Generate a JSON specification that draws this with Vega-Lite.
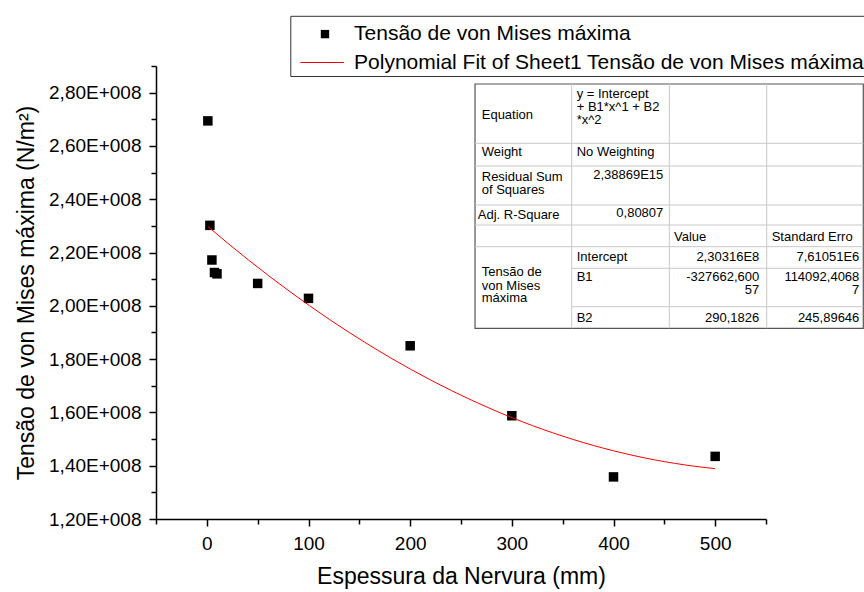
{
  "$schema": "https://vega.github.io/schema/vega-lite/v6.json",
  "autosize": {"type": "none"},
  "padding": {"left": 156, "top": 66, "right": 98, "bottom": 73},
  "width": 610,
  "height": 453,
  "background": "white",
  "config": {
    "view": {"stroke": null},
    "font": "Liberation Sans",
    "axis": {
      "domainColor": "black",
      "tickColor": "black",
      "labelColor": "black",
      "titleColor": "black",
      "grid": false,
      "labelFont": "Liberation Sans",
      "titleFont": "Liberation Sans",
      "labelFontSize": 19,
      "titleFontSize": 23,
      "titleFontWeight": "normal",
      "tickSize": 7,
      "labelPadding": 8,
      "domainWidth": 1.5,
      "tickWidth": 1.5
    }
  },
  "datasets": {
    "points": [
      {"x": 1, "y": 269400000},
      {"x": 3, "y": 230200000},
      {"x": 5, "y": 217200000},
      {"x": 7.5, "y": 212500000},
      {"x": 10, "y": 212000000},
      {"x": 50, "y": 208400000},
      {"x": 100, "y": 202800000},
      {"x": 200, "y": 185000000},
      {"x": 300, "y": 158750000},
      {"x": 400, "y": 135800000},
      {"x": 500, "y": 143500000}
    ],
    "tableBox": [
      {"x1": 263.8, "x2": 645.7, "y1": 283245000, "y2": 191565000}
    ],
    "tableLines": [
      {"x1": 358.9, "x2": 358.9, "y1": 283245000, "y2": 191565000},
      {"x1": 454.9, "x2": 454.9, "y1": 283245000, "y2": 191565000},
      {"x1": 550.7, "x2": 550.7, "y1": 283245000, "y2": 191565000},
      {"x1": 263.8, "x2": 645.7, "y1": 260991000, "y2": 260991000},
      {"x1": 263.8, "x2": 645.7, "y1": 252472000, "y2": 252472000},
      {"x1": 263.8, "x2": 645.7, "y1": 237837000, "y2": 237837000},
      {"x1": 263.8, "x2": 645.7, "y1": 230331000, "y2": 230331000},
      {"x1": 263.8, "x2": 645.7, "y1": 222188000, "y2": 222188000},
      {"x1": 358.9, "x2": 645.7, "y1": 214082000, "y2": 214082000},
      {"x1": 358.9, "x2": 645.7, "y1": 199671000, "y2": 199671000}
    ],
    "tableLeft": [
      {"x": 270.4, "y": 271611000, "t": "Equation"},
      {"x": 270.4, "y": 257539000, "t": "Weight"},
      {"x": 270.4, "y": 248157000, "t": "Residual Sum"},
      {"x": 270.4, "y": 243353000, "t": "of Squares"},
      {"x": 266.5, "y": 234009000, "t": "Adj. R-Square"},
      {"x": 270.4, "y": 212693000, "t": "Tensão de"},
      {"x": 270.4, "y": 207514000, "t": "von Mises"},
      {"x": 270.4, "y": 202823000, "t": "máxima"},
      {"x": 363.8, "y": 279379000, "t": "y = Intercept"},
      {"x": 363.8, "y": 274539000, "t": "+ B1*x^1 + B2"},
      {"x": 363.8, "y": 269660000, "t": "*x^2"},
      {"x": 363.8, "y": 257801000, "t": "No Weighting"},
      {"x": 363.8, "y": 218135000, "t": "Intercept"},
      {"x": 363.8, "y": 210929000, "t": "B1"},
      {"x": 363.8, "y": 195618000, "t": "B2"},
      {"x": 459.5, "y": 225940000, "t": "Value"},
      {"x": 555.6, "y": 225940000, "t": "Standard Erro"}
    ],
    "tableRight": [
      {"x": 449.0, "y": 249170000, "t": "2,38869E15"},
      {"x": 449.0, "y": 234647000, "t": "0,80807"},
      {"x": 543.4, "y": 218135000, "t": "2,30316E8"},
      {"x": 543.4, "y": 210929000, "t": "-327662,600"},
      {"x": 543.4, "y": 205938000, "t": "57"},
      {"x": 543.4, "y": 195618000, "t": "290,1826"},
      {"x": 641.8, "y": 218135000, "t": "7,61051E6"},
      {"x": 641.8, "y": 210929000, "t": "114092,4068"},
      {"x": 641.8, "y": 205938000, "t": "7"},
      {"x": 641.8, "y": 195618000, "t": "245,89646"}
    ],
    "legendBox": [
      {"x1": 82.6, "x2": 720, "y1": 308651000, "y2": 286060000}
    ],
    "legendSymbol": [
      {"x": 116.2, "y": 301971000}
    ],
    "legendLine": [
      {"x1": 92.0, "x2": 134.9, "y": 291313000}
    ],
    "legendText": [
      {"x": 144.8, "y": 301971000, "t": "Tensão de von Mises máxima"},
      {"x": 144.8, "y": 291313000, "t": "Polynomial Fit of Sheet1 Tensão de von Mises máxima"}
    ]
  },
  "resolve": {"axis": {"x": "independent", "y": "independent"}},
  "layer": [
    {
      "data": {"name": "points"},
      "mark": {"type": "point", "shape": "square", "filled": true, "size": 90, "color": "black", "opacity": 1},
      "encoding": {
        "x": {
          "field": "x", "type": "quantitative",
          "scale": {"domain": [-50, 550], "nice": false, "zero": false},
          "axis": {"orient": "bottom", "values": [0, 100, 200, 300, 400, 500], "title": "Espessura da Nervura (mm)", "titlePadding": 12}
        },
        "y": {
          "field": "y", "type": "quantitative",
          "scale": {"domain": [120000000, 290000000], "nice": false, "zero": false},
          "axis": {
            "orient": "left",
            "values": [120000000, 140000000, 160000000, 180000000, 200000000, 220000000, 240000000, 260000000, 280000000],
            "labelExpr": "replace(format(datum.value / 100000000, '.2f'), '.', ',') + 'E+008'",
            "title": "Tensão de von Mises máxima (N/m²)",
            "titlePadding": 10
          }
        }
      }
    },
    {
      "data": {"name": "points"},
      "transform": [{"regression": "y", "on": "x", "method": "poly", "order": 2}],
      "mark": {"type": "line", "color": "#ff0000", "strokeWidth": 1},
      "encoding": {
        "x": {
          "field": "x", "type": "quantitative",
          "axis": {"orient": "bottom", "values": [-50, 50, 150, 250, 350, 450, 550], "labels": false, "domain": false, "tickSize": 5, "title": null}
        },
        "y": {
          "field": "y", "type": "quantitative",
          "axis": {"orient": "left", "values": [130000000, 150000000, 170000000, 190000000, 210000000, 230000000, 250000000, 270000000, 290000000], "labels": false, "domain": false, "tickSize": 5, "title": null}
        }
      }
    },
    {
      "data": {"name": "tableBox"},
      "mark": {"type": "rect", "fill": "white", "stroke": "#555555", "strokeWidth": 1.2},
      "encoding": {
        "x": {"field": "x1", "type": "quantitative", "axis": null},
        "x2": {"field": "x2"},
        "y": {"field": "y1", "type": "quantitative", "axis": null},
        "y2": {"field": "y2"}
      }
    },
    {
      "data": {"name": "tableLines"},
      "mark": {"type": "rule", "color": "#c8c8c8", "strokeWidth": 1},
      "encoding": {
        "x": {"field": "x1", "type": "quantitative", "axis": null},
        "x2": {"field": "x2"},
        "y": {"field": "y1", "type": "quantitative", "axis": null},
        "y2": {"field": "y2"}
      }
    },
    {
      "data": {"name": "tableLeft"},
      "mark": {"type": "text", "align": "left", "baseline": "middle", "fontSize": 13, "font": "Liberation Sans", "color": "black"},
      "encoding": {
        "x": {"field": "x", "type": "quantitative", "axis": null},
        "y": {"field": "y", "type": "quantitative", "axis": null},
        "text": {"field": "t"}
      }
    },
    {
      "data": {"name": "tableRight"},
      "mark": {"type": "text", "align": "right", "baseline": "middle", "fontSize": 13, "font": "Liberation Sans", "color": "black"},
      "encoding": {
        "x": {"field": "x", "type": "quantitative", "axis": null},
        "y": {"field": "y", "type": "quantitative", "axis": null},
        "text": {"field": "t"}
      }
    },
    {
      "data": {"name": "legendBox"},
      "mark": {"type": "rect", "fill": "white", "stroke": "#333333", "strokeWidth": 1},
      "encoding": {
        "x": {"field": "x1", "type": "quantitative", "axis": null},
        "x2": {"field": "x2"},
        "y": {"field": "y1", "type": "quantitative", "axis": null},
        "y2": {"field": "y2"}
      }
    },
    {
      "data": {"name": "legendSymbol"},
      "mark": {"type": "point", "shape": "square", "filled": true, "size": 70, "color": "black", "opacity": 1},
      "encoding": {
        "x": {"field": "x", "type": "quantitative", "axis": null},
        "y": {"field": "y", "type": "quantitative", "axis": null}
      }
    },
    {
      "data": {"name": "legendLine"},
      "mark": {"type": "rule", "color": "#ff0000", "strokeWidth": 1},
      "encoding": {
        "x": {"field": "x1", "type": "quantitative", "axis": null},
        "x2": {"field": "x2"},
        "y": {"field": "y", "type": "quantitative", "axis": null}
      }
    },
    {
      "data": {"name": "legendText"},
      "mark": {"type": "text", "align": "left", "baseline": "middle", "fontSize": 21, "font": "Liberation Sans", "color": "black"},
      "encoding": {
        "x": {"field": "x", "type": "quantitative", "axis": null},
        "y": {"field": "y", "type": "quantitative", "axis": null},
        "text": {"field": "t"}
      }
    }
  ]
}
